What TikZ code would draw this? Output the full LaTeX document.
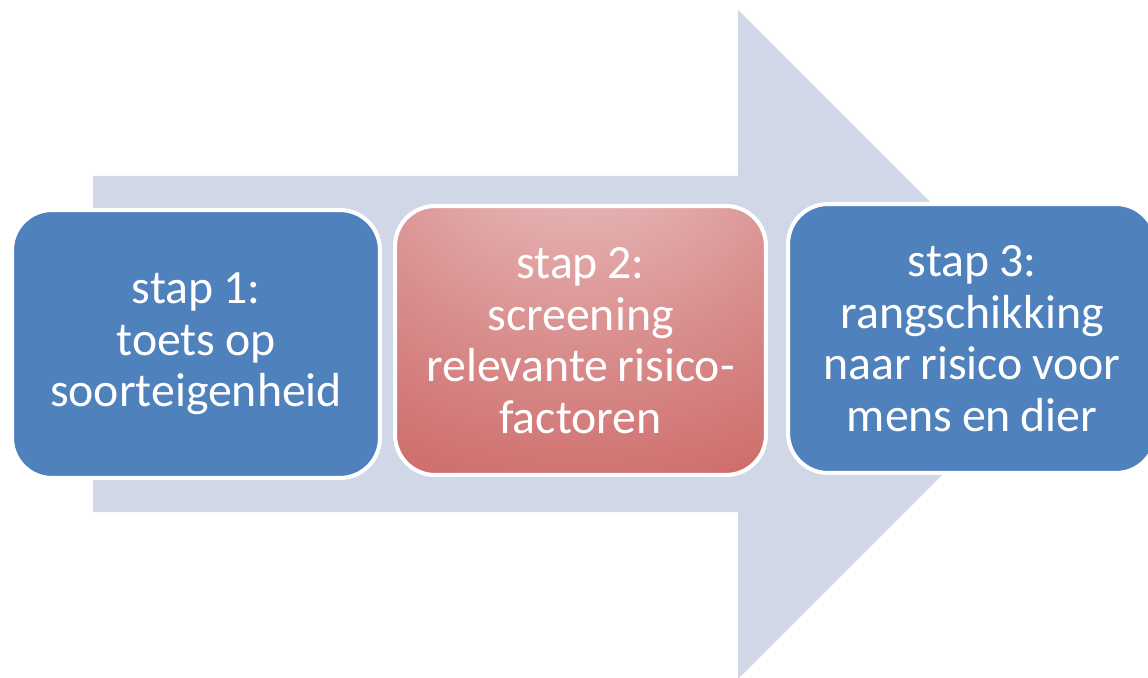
\documentclass[tikz,border=0pt]{standalone}
\usepackage{fontspec}
\setmainfont{Carlito}
\usepackage{tikz}

\definecolor{arrowgray}{RGB}{208,216,232}
\definecolor{stepblue}{RGB}{79,129,189}
\pgfdeclareradialshading{redglow}{\pgfpoint{0bp}{46bp}}{%
  rgb(0bp)=(0.95,0.86,0.86);
  rgb(12bp)=(0.90,0.70,0.70);
  rgb(30bp)=(0.85,0.55,0.55);
  rgb(50bp)=(0.80,0.41,0.40);
  rgb(75bp)=(0.76,0.32,0.31)}

\begin{document}
\begin{tikzpicture}[x = 0.02cm, y = -0.02cm,
    stepbox/.style = {draw = white, line width = 2.3pt, rounded corners = 0.8cm,
      minimum width = 7.36cm, minimum height = 5.36cm, text width = 7.2cm,
      align = center, text = white, inner sep = 0pt,
      font = \fontsize{27.2}{29.3}\selectfont,
      execute at begin node = {\spaceskip=0.2em\relax}},
    bluestep/.style = {stepbox, fill = stepblue},
    redstep/.style = {stepbox, shading = redglow}]
        \useasboundingbox (0, 0) rectangle (1148, 678);

        \fill[arrowgray] (93, 176) -- (738, 176) -- (738, 10) -- (1072.5, 344.5)
              -- (738, 679) -- (738, 512) -- (93, 512) -- cycle;

        \node[bluestep] (stap1) at (196, 344) {stap 1:\\ toets op\\ soorteigenheid};
        \node[redstep, minimum width = 7.42cm, minimum height = 5.38cm] (stap2) at (580.5, 340.5)
              {stap 2:\\ screening\\ relevante risico-\\ factoren};
        \node[bluestep, minimum height = 5.38cm] (stap3) at (972, 338.5)
              {stap 3:\\ rangschikking\\ naar risico voor\\ mens en dier};
      \end{tikzpicture}
\end{document}
